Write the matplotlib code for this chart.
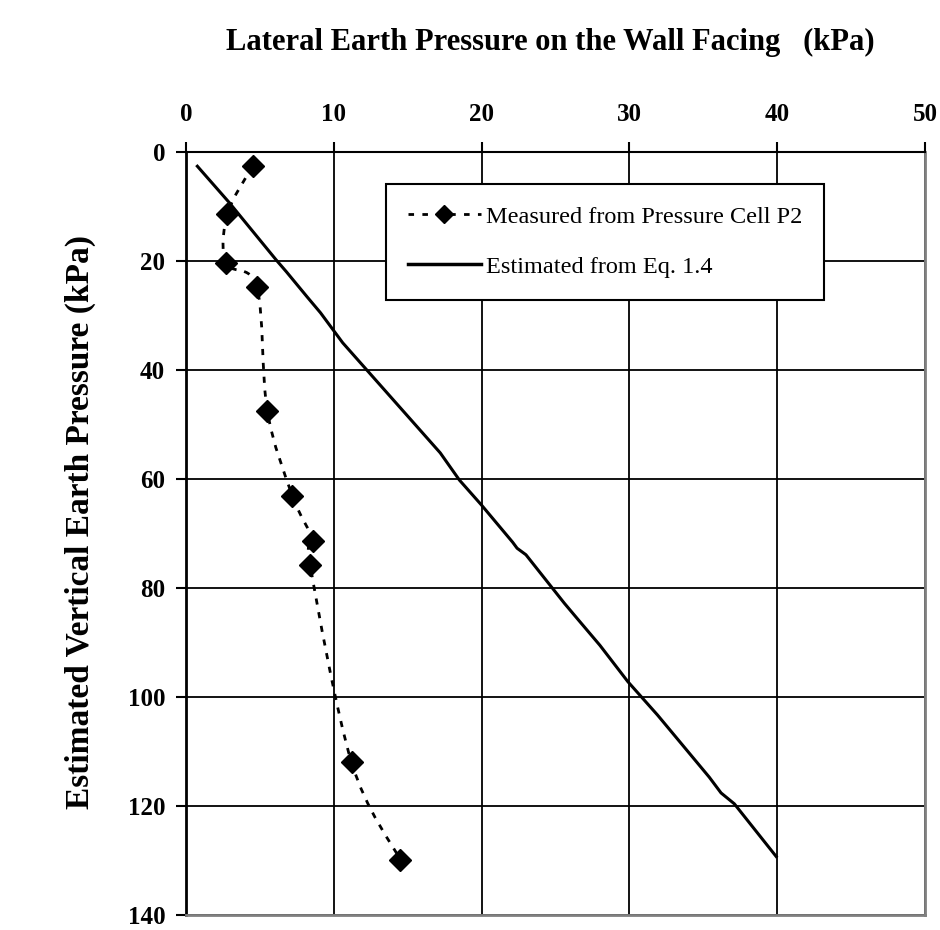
import matplotlib
matplotlib.use("Agg")
import matplotlib.pyplot as plt
from matplotlib.path import Path
from matplotlib.patches import PathPatch
from matplotlib.lines import Line2D
import numpy as np

plt.rcParams['font.family'] = ['Liberation Serif', 'DejaVu Serif']

# Data
meas_x = [4.5, 2.8, 2.7, 4.8, 5.5, 7.2, 8.6, 8.4, 11.2, 14.5]
meas_y = [2.6, 11.4, 20.4, 24.8, 47.5, 63.1, 71.4, 75.8, 112.0, 129.9]

est_x = [0.7, 2.9, 6.1, 6.8, 8.2, 9.1, 10.6, 17.2, 18.5, 20.0, 22.1, 22.4, 23.0,
         25.6, 26.5, 28.0, 29.9, 31.9, 35.4, 36.2, 37.1, 40.0]
est_y = [2.4, 9.2, 19.8, 22.0, 26.6, 29.5, 35.0, 55.2, 60.2, 64.8, 71.6, 72.7, 73.9,
         82.8, 85.7, 90.5, 97.2, 103.3, 114.7, 117.6, 119.6, 129.5]

x_ticks = [0, 10, 20, 30, 40, 50]
y_ticks = [0, 20, 40, 60, 80, 100, 120, 140]

title = "Lateral Earth Pressure on the Wall Facing   (kPa)"
ylabel = "Estimated Vertical Earth Pressure (kPa)"
lab_meas = "Measured from Pressure Cell P2"
lab_est = "Estimated from Eq. 1.4"

fig = plt.figure(figsize=(9.4, 9.3), dpi=100)
ax = fig.add_axes([186/940, 1-915/930, 739/940, 763/930])

ax.set_xlim(0, 50)
ax.set_ylim(140, 0)

# smoothed dashed curve (Catmull-Rom style bezier through measured points)
P = np.column_stack([meas_x, meas_y])
verts = [tuple(P[0])]
codes = [Path.MOVETO]
n = len(P)
for i in range(n - 1):
    p0 = P[i - 1] if i > 0 else P[i]
    p1 = P[i]
    p2 = P[i + 1]
    p3 = P[i + 2] if i + 2 < n else P[i + 1]
    c1 = p1 + (p2 - p0) / 6.0
    c2 = p2 - (p3 - p1) / 6.0
    verts += [tuple(c1), tuple(c2), tuple(p2)]
    codes += [Path.CURVE4] * 3
patch = PathPatch(Path(verts, codes), facecolor='none', edgecolor='black',
                  lw=2.0, linestyle=(0, (2.2, 2.8)), zorder=3)
ax.add_patch(patch)
ax.plot(meas_x, meas_y, linestyle='none', marker='D', ms=11.5, color='black', zorder=4)

ax.plot(est_x, est_y, color='black', lw=2.2, solid_capstyle='butt', zorder=3)

# grid
ax.set_xticks(x_ticks)
ax.set_yticks(y_ticks)
ax.grid(True, color='black', lw=1.3)
ax.set_axisbelow(True)
ax.xaxis.tick_top()
ax.tick_params(axis='x', direction='out', length=7, width=1.5, pad=12,
               labelsize=18)
ax.tick_params(axis='y', direction='out', length=7, width=1.5, pad=8,
               labelsize=18)
for lab in ax.get_xticklabels() + ax.get_yticklabels():
    lab.set_fontweight('bold')

ax.spines['top'].set_color('black')
ax.spines['top'].set_linewidth(1.5)
ax.spines['left'].set_color('black')
ax.spines['left'].set_linewidth(2.0)
ax.spines['right'].set_color('#808080')
ax.spines['right'].set_linewidth(2.0)
ax.spines['bottom'].set_color('#808080')
ax.spines['bottom'].set_linewidth(2.0)

fig.text(550/940, 1-42/930, title, ha='center', va='center', fontsize=22,
         fontweight='bold')
fig.text(80/940, 1-522/930, ylabel, ha='center', va='center', rotation=90,
         fontsize=24, fontweight='bold')

h1 = Line2D([], [], color='black', lw=2.0, linestyle=(0, (2, 3)), marker='D', ms=9)
h2 = Line2D([], [], color='black', lw=2.5)
leg = ax.legend([h1, h2], [lab_meas, lab_est], loc='upper left',
                bbox_to_anchor=((386-186)/739, 1-(184-152)/763),
                fontsize=17.5, frameon=True, fancybox=False, borderpad=0.9,
                labelspacing=1.15, handlelength=3.0, handletextpad=0.2,
                borderaxespad=0)
leg.get_frame().set_edgecolor('black')
leg.get_frame().set_linewidth(1.5)
leg.get_frame().set_facecolor('white')
leg.get_frame().set_alpha(1)
leg.set_zorder(10)

fig.savefig("out.png", dpi=100)
